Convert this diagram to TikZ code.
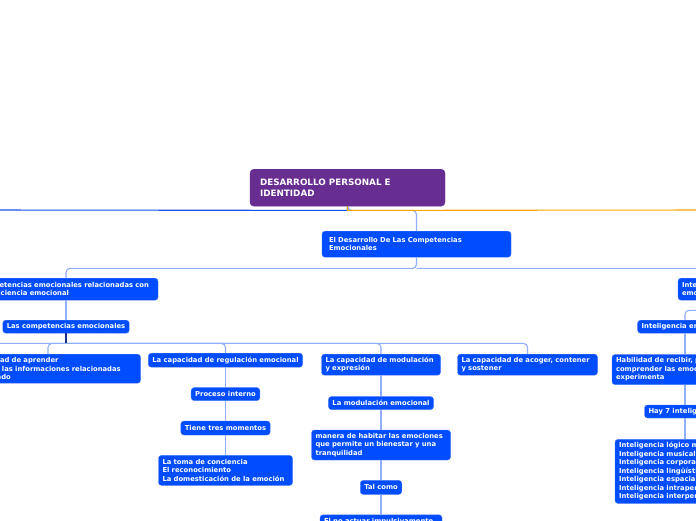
\documentclass[tikz,border=0pt]{standalone}
\usepackage{fontspec}
\setmainfont{DejaVu Sans}
\usetikzlibrary{positioning}
\definecolor{boxblue}{RGB}{0,76,255}
\definecolor{boxrim}{RGB}{70,120,255}
\definecolor{linkblue}{RGB}{145,175,255}
\definecolor{linkdark}{RGB}{25,45,140}
\definecolor{rootpurple}{RGB}{104,45,145}
\definecolor{mainblue}{RGB}{20,80,235}
\definecolor{mainorange}{RGB}{255,165,0}

\begin{document}
\begin{tikzpicture}[x=1pt,y=-1pt,node distance=20pt,
idea/.style={draw=boxrim,fill=boxblue,rounded corners=3pt,text=white,align=left,
  font=\fontsize{6.8}{8.5}\selectfont\bfseries,inner xsep=4pt,inner ysep=2pt,anchor=north},
rootbox/.style={idea,draw=rootpurple,fill=rootpurple,rounded corners=4pt,
  font=\fontsize{8.8}{11}\selectfont\bfseries,inner xsep=10pt,text width=175pt,minimum height=37pt},
link/.style={draw=linkblue,line width=1.1pt,rounded corners=4pt}]
\useasboundingbox (0,0) rectangle (696,520);
\clip (0,0) rectangle (696,520);
\fill[white] (0,0) rectangle (696,520);

\node[rootbox] (root) at (347.5,169) {DESARROLLO PERSONAL E\\IDENTIDAD};
\node[idea,text width=175pt,inner xsep=7pt,minimum height=26pt] (dev) at (416.5,231) {El Desarrollo De Las Competencias\\Emocionales};
\coordinate (offL) at (-20,210);
\coordinate (offR) at (716,210);

% rama izquierda
\node[idea,text width=176pt,minimum height=22pt] (ce) at (66,278) {Competencias emocionales relacionadas con\\la conciencia emocional};
\node[idea,minimum height=13pt] (lce) at (66,320) {Las competencias emocionales};
\coordinate (offC) at (-30,354);
\node[idea,text width=177pt,minimum height=29pt] (apr) at (48,354) {La capacidad de aprender\\y procesar las informaciones relacionadas\\con el mundo};
\node[idea,minimum height=14pt] (reg) at (225.5,353) {La capacidad de regulación emocional};
\node[idea,minimum height=13pt,below=of reg] (proc) {Proceso interno};
\node[idea,minimum height=14pt,below=of proc] (tres) {Tiene tres momentos};
\node[idea,text width=126pt,minimum height=30pt,below=of tres] (toma) {La toma de conciencia\\El reconocimiento\\La domesticación de la emoción};
\node[idea,text width=111pt,minimum height=21pt] (mod) at (381,354) {La capacidad de modulación\\y expresión};
\node[idea,minimum height=13pt,below=21pt of mod] (modemo) {La modulación emocional};
\node[idea,text width=131pt,minimum height=30pt,below=of modemo] (manera) {manera de habitar las emociones\\que permite un bienestar y una\\tranquilidad};
\node[idea,minimum height=14pt,below=of manera] (tal) {Tal como};
\node[idea,text width=114pt,minimum height=14pt,below=of tal] (noact) {El no actuar impulsivamente};
\node[idea,text width=132pt,minimum height=21pt] (acog) at (527.5,354) {La capacidad de acoger, contener\\y sostener};

% rama derecha
\node[idea,text width=100pt,minimum height=22pt] (intl) at (732,278) {Inteligencia\\emocional};
\node[idea,minimum height=13pt] (intemo) at (685,320) {Inteligencia emocional};
\node[idea,text width=138pt,minimum height=30pt,below=21pt of intemo] (hab) {Habilidad de recibir, percibir,\\comprender las emociones que se\\experimenta};
\node[idea,minimum height=13pt,below=of hab] (hay) {Hay 7 inteligencias};
\node[idea,text width=132pt,minimum height=64pt,below=21pt of hay] (lista) {Inteligencia lógico matemática\\Inteligencia musical\\Inteligencia corporal\\Inteligencia lingüística\\Inteligencia espacial\\Inteligencia intrapersonal\\Inteligencia interpersonal};

\draw[link] (root.south)--++(0,4)-|(dev.north);
\draw[mainblue,line width=1.1pt] (root.south)--++(0,4)--(offL);
\draw[mainorange,line width=1.1pt] (root.south)--++(0,4)--(offR);
\draw[link] (dev.south)--++(0,11)-|(ce.north);
\draw[link] (dev.south)++(0,11)-|(intl.north);
\draw[link] (ce.south)--(lce.north);
\draw[link] (lce.south)++(0,10)-|(offC);
\draw[link] (lce.south)++(0,10)-|(apr.north);
\draw[link] (lce.south)++(0,10)-|(reg.north);
\draw[link] (lce.south)++(0,10)-|(mod.north);
\draw[link] (lce.south)++(0,10)-|(acog.north);
\draw[linkdark,line width=1.1pt] (lce.south)--++(0,10);
\draw[link] (reg)--(proc);\draw[link] (proc)--(tres);\draw[link] (tres)--(toma);
\draw[link] (mod)--(modemo);\draw[link] (modemo)--(manera);\draw[link] (manera)--(tal);\draw[link] (tal)--(noact);
\draw[link] (intl.south)--++(0,10)-|(intemo.north);
\draw[link] (intemo)--(hab);\draw[link] (hab)--(hay);\draw[link] (hay)--(lista);
\end{tikzpicture}
\end{document}
